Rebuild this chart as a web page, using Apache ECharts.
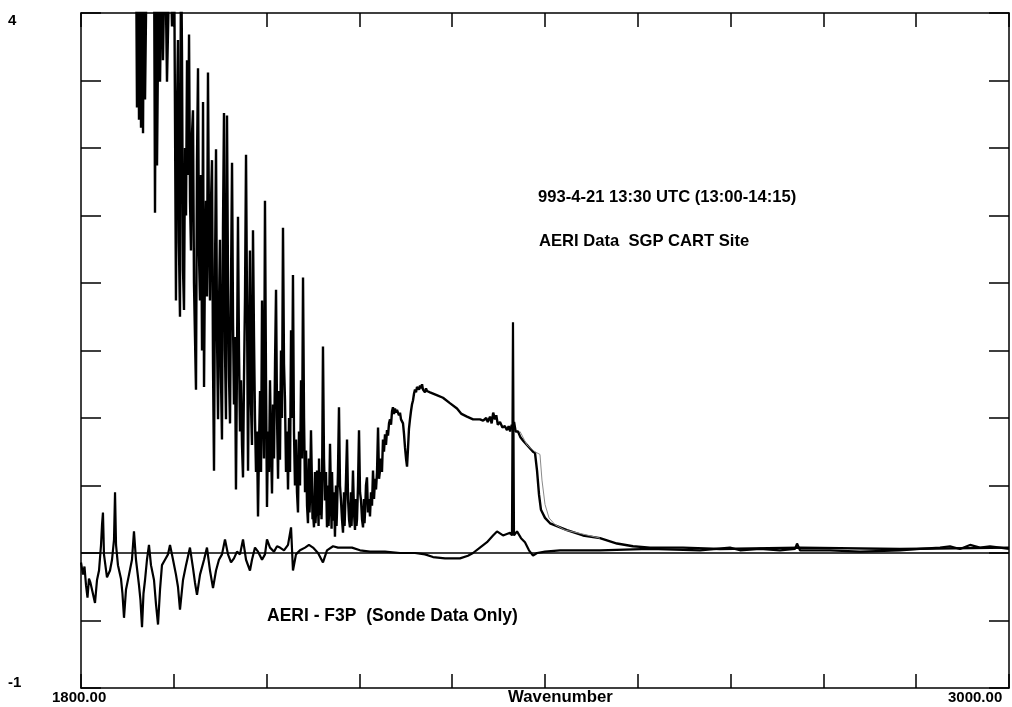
<!DOCTYPE html>
<html>
<head>
<meta charset="utf-8">
<script src="https://cdn.jsdelivr.net/npm/echarts@6/dist/echarts.min.js"></script>
<style>
  html, body { margin: 0; padding: 0; background: #ffffff; }
  #chart { width: 1012px; height: 707px; }
</style>
</head>
<body>
<div id="chart"></div>
<script>
// ---- Axis settings / labels ----
const xTickInterval = 120;
const xMin = 1800, xMax = 3000;
const yMin = -1, yMax = 4, yTickInterval = 0.5;
const xEndLabels = ['1800.00', '3000.00'];
const yEndLabels = ['4', '-1'];
const xAxisName = 'Wavenumber';
const annotations = [
  '993-4-21 13:30 UTC (13:00-14:15)',
  'AERI Data  SGP CART Site',
  'AERI - F3P  (Sonde Data Only)'
];

// ---- AERI measured spectrum: [wavenumber, value] (values above 4 are off-scale) ----
const specHighBand = [
  [1800, 4.6], [1871.1, 4.6], [1872.4, 3.30], [1873.7, 4.6], [1875.0, 3.21], [1876.3, 4.6],
  [1877.6, 3.15], [1878.9, 4.6], [1880.2, 3.11], [1881.5, 4.6], [1882.8, 3.36], [1885.3, 4.6],
  [1894.4, 4.6], [1895.7, 2.52], [1897.0, 4.6], [1898.3, 2.87], [1900.9, 4.6], [1902.2, 3.49],
  [1904.7, 4.6], [1906.0, 3.65], [1908.6, 4.6], [1911.2, 3.49], [1915.1, 4.6], [1917.7, 3.90],
  [1920.3, 4.6]
];
const specLineBand = [
  [1922.8, 1.87], [1924.0, 3.2], [1925.4, 3.80], [1926.6, 2.3], [1928.0, 1.75], [1929.3, 4.6],
  [1930.6, 3.69], [1931.9, 2.1], [1933.2, 1.80], [1934.5, 3.0], [1935.8, 2.5], [1937.1, 3.65],
  [1938.4, 2.8], [1939.7, 3.84], [1941.0, 2.6], [1942.2, 2.24], [1943.5, 3.1], [1944.8, 3.28],
  [1946.1, 2.0], [1947.4, 1.6], [1948.7, 1.21], [1950.0, 2.9], [1951.3, 3.59], [1952.6, 2.2],
  [1953.9, 1.87], [1955.2, 2.8], [1956.5, 1.5], [1957.8, 3.34], [1959.1, 1.23], [1960.3, 2.2],
  [1961.6, 2.61], [1962.9, 1.9], [1964.2, 3.56], [1965.5, 2.4], [1966.8, 1.87], [1968.1, 2.6],
  [1969.4, 2.91], [1970.7, 1.4], [1972.0, 0.61], [1973.3, 2.1], [1974.6, 2.99], [1975.9, 1.6],
  [1977.2, 0.99], [1978.4, 1.8], [1979.7, 2.32], [1981.0, 1.3], [1982.3, 0.84], [1983.6, 2.4],
  [1984.9, 3.26], [1986.2, 1.5], [1987.5, 0.99], [1988.8, 3.24], [1990.1, 2.0], [1991.4, 1.3],
  [1992.7, 0.96], [1994.0, 2.0], [1995.3, 2.89], [1996.6, 1.7], [1997.8, 1.1], [1999.1, 1.6],
  [2000.4, 0.47], [2001.7, 1.4], [2003.0, 2.49], [2004.3, 1.5], [2005.6, 0.9], [2006.9, 1.28],
  [2008.2, 0.8], [2009.5, 0.56], [2010.8, 1.3], [2012.1, 1.9], [2013.4, 2.95], [2014.7, 1.8],
  [2016.0, 0.61], [2017.2, 1.5], [2018.5, 2.24], [2019.8, 1.1], [2021.1, 0.8], [2022.4, 2.39],
  [2023.7, 1.6], [2025.0, 0.99], [2026.3, 0.6], [2027.6, 0.9], [2028.9, 0.27], [2030.2, 0.8],
  [2031.5, 1.2], [2032.8, 0.6], [2034.1, 1.87], [2035.4, 1.1], [2036.6, 0.7], [2037.9, 2.61],
  [2039.2, 1.3], [2040.5, 0.34], [2041.8, 0.9], [2043.1, 0.6], [2044.4, 1.28], [2045.7, 0.8],
  [2047.0, 0.44], [2048.3, 1.1], [2049.6, 0.7], [2050.9, 1.4], [2052.2, 1.95], [2053.5, 1.0],
  [2054.8, 0.55], [2056.0, 1.2], [2057.3, 0.69], [2058.6, 1.5], [2059.9, 1.0], [2061.2, 2.41],
  [2062.5, 1.4], [2063.8, 1.13], [2065.1, 0.6], [2066.4, 0.9], [2067.7, 0.47], [2069.0, 1.0],
  [2070.3, 0.6], [2071.6, 1.65], [2072.9, 1.0], [2074.1, 2.06], [2075.4, 0.9], [2076.7, 0.5],
  [2078.0, 0.84], [2079.3, 0.45], [2080.6, 0.30], [2081.9, 0.9], [2083.2, 0.5], [2084.5, 1.28],
  [2085.8, 0.7], [2087.1, 2.04], [2088.4, 1.0], [2089.7, 0.45], [2091.0, 0.76], [2092.3, 0.35],
  [2093.5, 0.22], [2094.8, 0.7], [2095.5, 0.3], [2096.1, 0.4], [2097.4, 0.91], [2098.7, 0.5],
  [2099.4, 0.25], [2100.0, 0.3], [2101.3, 0.19], [2102.6, 0.6], [2103.2, 0.22], [2103.9, 0.3],
  [2105.2, 0.61], [2106.5, 0.35], [2107.2, 0.2], [2107.8, 0.7], [2109.1, 0.28], [2110.4, 0.6],
  [2111.0, 0.25], [2111.6, 0.4], [2112.9, 1.53], [2114.2, 0.7], [2115.5, 0.39], [2116.8, 0.6],
  [2118.1, 0.19], [2119.4, 0.5], [2120.1, 0.2], [2120.7, 0.3], [2122.0, 0.81], [2123.3, 0.4],
  [2124.0, 0.18], [2124.6, 0.6], [2125.9, 0.24], [2127.2, 0.45], [2128.4, 0.12], [2129.7, 0.5],
  [2130.4, 0.2], [2131.0, 0.3], [2132.3, 0.6], [2133.6, 1.08], [2134.9, 0.5], [2136.2, 0.39],
  [2137.5, 0.25], [2138.8, 0.15], [2140.1, 0.45], [2140.8, 0.2], [2141.4, 0.3], [2142.7, 0.55],
  [2144.0, 0.84], [2145.3, 0.4], [2146.6, 0.25], [2147.8, 0.19], [2149.1, 0.45], [2149.8, 0.2],
  [2150.4, 0.3], [2151.7, 0.61], [2153.0, 0.3], [2154.3, 0.17], [2155.6, 0.4], [2156.2, 0.2],
  [2156.9, 0.25], [2158.2, 0.5], [2159.5, 0.91], [2160.8, 0.45], [2162.1, 0.39], [2163.4, 0.25],
  [2164.7, 0.19], [2166.0, 0.4], [2166.6, 0.22], [2167.3, 0.3], [2168.5, 0.5], [2169.8, 0.56],
  [2171.1, 0.3], [2172.4, 0.4], [2173.7, 0.27], [2175.0, 0.45], [2176.3, 0.35], [2177.6, 0.61],
  [2178.9, 0.4], [2180.2, 0.55], [2181.5, 0.47], [2182.8, 0.6], [2184.1, 0.93], [2185.4, 0.55],
  [2186.6, 0.61], [2187.9, 0.7], [2189.2, 0.6], [2190.5, 0.84], [2191.8, 0.75], [2193.1, 0.88],
  [2194.4, 0.8], [2195.7, 0.91], [2197.0, 0.87], [2198.3, 0.96], [2199.6, 0.99], [2200.9, 0.95],
  [2202.2, 1.05], [2203.4, 1.08], [2204.7, 1.03], [2206.0, 1.07], [2207.3, 1.04], [2208.6, 1.06],
  [2209.9, 1.06], [2211.2, 1.02], [2212.5, 1.04], [2213.8, 0.99], [2215.1, 0.98], [2216.4, 0.96],
  [2217.7, 0.88], [2219.0, 0.78], [2220.3, 0.70], [2221.6, 0.64], [2222.9, 0.78], [2224.1, 0.92],
  [2225.4, 0.99], [2226.7, 1.05], [2228.0, 1.10], [2229.3, 1.13], [2230.6, 1.18], [2231.9, 1.21],
  [2233.2, 1.19], [2234.5, 1.23], [2235.8, 1.24], [2237.1, 1.21], [2238.4, 1.24], [2239.7, 1.22],
  [2241.0, 1.25], [2242.2, 1.21], [2243.5, 1.22], [2244.8, 1.19], [2246.1, 1.22], [2247.4, 1.20]
];
const specTail = [
  [2251.3, 1.19], [2260.0, 1.17], [2268.1, 1.15], [2277.0, 1.11], [2286.2, 1.07], [2292.0, 1.03],
  [2299.1, 1.01], [2307.0, 0.99], [2315.9, 0.99], [2320.0, 0.98], [2324.0, 1.00], [2326.0, 0.97],
  [2328.9, 1.01], [2331.0, 0.96], [2333.0, 1.04], [2335.3, 0.99], [2337.0, 1.02], [2339.0, 0.95],
  [2341.8, 0.97], [2345.0, 0.93], [2348.0, 0.94], [2350.9, 0.91], [2353.0, 0.94], [2355.0, 0.90],
  [2357.0, 0.95], [2358.6, 0.93], [2360.0, 0.97], [2362.0, 0.90], [2365.1, 0.90], [2368.0, 0.86],
  [2372.0, 0.83], [2376.7, 0.80], [2384.5, 0.75], [2387.1, 0.74], [2389.7, 0.61], [2392.3, 0.43],
  [2394.8, 0.32], [2400.0, 0.26], [2406.5, 0.22], [2428.4, 0.17], [2449.1, 0.13], [2471.1, 0.11],
  [2493.1, 0.07], [2513.8, 0.05], [2535.8, 0.04], [2578.4, 0.04], [2626.3, 0.03], [2729.7, 0.04],
  [2859.0, 0.03], [3000, 0.04]
];

// ---- Calculated spectrum (only visible where it departs from the measurement) ----
const calcData = [
  [2367.7, 0.90], [2376.7, 0.80], [2387.1, 0.75], [2393.5, 0.73], [2396.1, 0.54], [2400.0, 0.36],
  [2405.2, 0.26], [2412.9, 0.21], [2425.9, 0.17], [2449.1, 0.14], [2471.1, 0.11]
];

// ---- AERI - F3P difference ----
const diffData = [
  [1800, -0.07], [1802.6, -0.16], [1804.5, -0.10], [1806.5, -0.24], [1808.4, -0.33], [1810.3, -0.19],
  [1812.2, -0.22], [1814.2, -0.27], [1818.1, -0.37], [1820.7, -0.20], [1823.3, -0.13], [1825.9, 0.06],
  [1827.2, 0.21], [1828.4, 0.30], [1829.7, -0.01], [1833.6, -0.18], [1837.5, -0.13], [1840.1, -0.05],
  [1842.7, 0.10], [1844.0, 0.45], [1845.3, 0.06], [1847.8, -0.09], [1851.7, -0.19], [1853.6, -0.30],
  [1855.6, -0.48], [1858.2, -0.27], [1862.1, -0.16], [1865.9, -0.05], [1868.5, 0.16], [1871.1, -0.05],
  [1875.0, -0.24], [1876.9, -0.35], [1878.9, -0.55], [1880.8, -0.30], [1882.8, -0.20], [1885.3, -0.05],
  [1887.9, 0.06], [1890.5, -0.09], [1894.4, -0.20], [1897.0, -0.38], [1899.6, -0.53], [1902.2, -0.27],
  [1904.7, -0.09], [1908.6, -0.05], [1912.5, -0.01], [1915.1, 0.06], [1919.0, -0.05], [1922.8, -0.16],
  [1925.4, -0.25], [1928.0, -0.42], [1931.9, -0.20], [1935.8, -0.09], [1940.9, 0.04], [1944.8, -0.11],
  [1947.4, -0.22], [1950.0, -0.31], [1953.9, -0.16], [1959.1, -0.05], [1962.9, 0.04], [1966.8, -0.13],
  [1970.7, -0.26], [1974.6, -0.13], [1978.4, -0.05], [1982.3, -0.01], [1986.2, 0.10], [1990.1, -0.01],
  [1994.0, -0.07], [1997.8, -0.04], [2001.7, 0.01], [2005.6, -0.01], [2009.5, 0.10], [2013.4, -0.05],
  [2018.5, -0.13], [2021.1, -0.05], [2025.0, 0.04], [2028.9, 0.01], [2034.1, -0.05], [2037.9, -0.01],
  [2040.5, 0.10], [2044.4, 0.04], [2049.6, 0.01], [2053.5, 0.05], [2057.3, 0.04], [2062.5, 0.02],
  [2067.7, 0.06], [2071.6, 0.19], [2074.1, -0.13], [2078.0, -0.01], [2083.2, 0.02], [2089.7, 0.04],
  [2094.8, 0.06], [2100.0, 0.04], [2106.5, 0.00], [2112.9, -0.07], [2118.1, 0.02], [2125.9, 0.05],
  [2132.3, 0.04], [2141.4, 0.04], [2150.4, 0.04], [2160.8, 0.02], [2173.7, 0.01], [2193.1, 0.01],
  [2212.5, 0.00], [2231.9, 0.00], [2244.8, -0.01], [2255.2, -0.03], [2270.7, -0.04], [2290.1, -0.04],
  [2300.4, -0.02], [2306.9, 0.00], [2315.9, 0.04], [2325.0, 0.08], [2332.8, 0.13], [2337.9, 0.16],
  [2345.7, 0.13], [2354.8, 0.15], [2357.3, 0.13], [2358.6, 1.71], [2359.9, 0.13], [2363.8, 0.16],
  [2369.0, 0.11], [2374.1, 0.08], [2379.3, 0.02], [2384.5, -0.02], [2389.7, 0.00], [2400.0, 0.01],
  [2419.4, 0.02], [2471.1, 0.02], [2535.8, 0.03], [2600.4, 0.02], [2639.2, 0.04], [2652.2, 0.02],
  [2678.0, 0.03], [2703.9, 0.02], [2723.3, 0.03], [2725.9, 0.07], [2729.7, 0.02], [2768.5, 0.02],
  [2807.3, 0.01], [2859.0, 0.02], [2884.9, 0.03], [2910.8, 0.04], [2923.7, 0.05], [2936.6, 0.03],
  [2949.6, 0.06], [2962.5, 0.04], [2975.4, 0.05], [2988.4, 0.04], [3000, 0.03]
];

const specData = specHighBand.concat(specLineBand, specTail);

const chart = echarts.init(document.getElementById('chart'), null, { renderer: 'canvas' });
const FONT = '"Liberation Sans", Arial, sans-serif';
const tickStyle = { color: '#000', width: 1.5 };
const axisCommon = {
  axisLine: { show: true, onZero: false, lineStyle: { color: '#000', width: 1.5 } },
  axisLabel: { show: false },
  splitLine: { show: false }
};
const xAx = (pos) => Object.assign({ type: 'value', min: xMin, max: xMax, interval: xTickInterval, position: pos,
  axisTick: { show: true, inside: true, length: 14, lineStyle: tickStyle } }, axisCommon);
const yAx = (pos) => Object.assign({ type: 'value', min: yMin, max: yMax, interval: yTickInterval, position: pos,
  axisTick: { show: true, inside: true, length: 20, lineStyle: tickStyle } }, axisCommon);

const option = {
  backgroundColor: '#ffffff',
  animation: false,
  grid: { left: 81, right: 3, top: 13, bottom: 19, containLabel: false },
  xAxis: [xAx('bottom'), xAx('top')],
  yAxis: [yAx('left'), yAx('right')],
  series: [
    {
      name: 'AERI', type: 'line', data: specData, showSymbol: false, symbol: 'none',
      clip: true, lineStyle: { color: '#000', width: 2.4 },
      markLine: {
        silent: true, symbol: ['none', 'none'], label: { show: false },
        lineStyle: { color: '#000', width: 1.5, type: 'solid' },
        data: [{ yAxis: 0 }]
      }
    },
    {
      name: 'Calc', type: 'line', data: calcData, showSymbol: false, symbol: 'none',
      clip: true, lineStyle: { color: '#8a8a8a', width: 1 }
    },
    {
      name: 'AERI - F3P', type: 'line', data: diffData, showSymbol: false, symbol: 'none',
      clip: true, lineStyle: { color: '#000', width: 2.2 }
    }
  ],
  graphic: [
    { type: 'text', left: 8, top: 13, style: { text: yEndLabels[0], font: 'bold 15px ' + FONT, fill: '#000' } },
    { type: 'text', left: 8, top: 675, style: { text: yEndLabels[1], font: 'bold 15px ' + FONT, fill: '#000' } },
    { type: 'text', left: 52, top: 690, style: { text: xEndLabels[0], font: 'bold 15px ' + FONT, fill: '#000' } },
    { type: 'text', left: 948, top: 690, style: { text: xEndLabels[1], font: 'bold 15px ' + FONT, fill: '#000' } },
    { type: 'text', left: 508, top: 689, style: { text: xAxisName, font: 'bold 16.8px ' + FONT, fill: '#000' } },
    { type: 'text', left: 538, top: 189, style: { text: annotations[0], font: 'bold 16.6px ' + FONT, fill: '#000' } },
    { type: 'text', left: 539, top: 233, style: { text: annotations[1], font: 'bold 16.6px ' + FONT, fill: '#000' } },
    { type: 'text', left: 267, top: 607, style: { text: annotations[2], font: 'bold 17.5px ' + FONT, fill: '#000' } }
  ]
};
chart.setOption(option);
</script>
</body>
</html>
